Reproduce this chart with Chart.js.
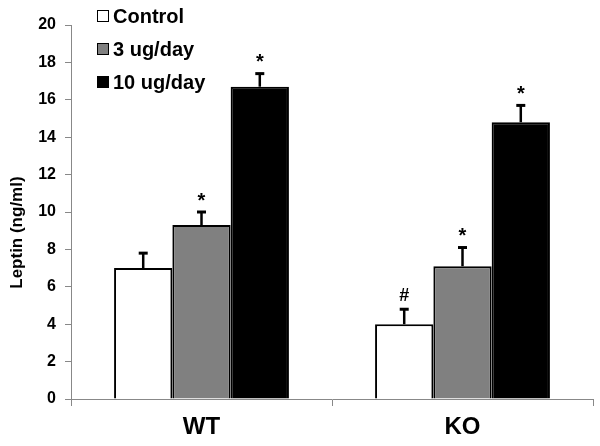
<!DOCTYPE html>
<html>
<head>
<meta charset="utf-8">
<script src="https://cdn.jsdelivr.net/npm/chart.js@4.4.1/dist/chart.umd.min.js"></script>
<style>
  html, body { margin: 0; padding: 0; background: #fff; }
  #wrap { width: 600px; height: 446px; }
</style>
</head>
<body>
<div id="wrap"><canvas id="leptin"></canvas></div>
<script>
// groups and series
const groups = ["WT", "KO"];
const seriesNames = ["Control", "3 ug/day", "10 ug/day"];
const leptin = [
  [7.0, 4.0],
  [9.3, 7.1],
  [16.7, 14.8],
];
const sem = [
  [0.8, 0.8],
  [0.7, 1.0],
  [0.7, 0.9],
];
const marks = [
  ["", "#"],
  ["*", "*"],
  ["*", "*"],
];
const yTicks = [0, 2, 4, 6, 8, 10, 12, 14, 16, 18, 20];
const yTitle = "Leptin (ng/ml)";

const fills = ["#ffffff", "#808080", "#000000"];
const fontFam = "'Liberation Sans', Arial, sans-serif";

// error bars, significance marks, legend and y title
const extras = {
  id: "extras",
  afterDatasetsDraw(chart) {
    const ctx = chart.ctx;
    const y = chart.scales.y;
    ctx.save();
    chart.data.datasets.forEach((ds, i) => {
      const meta = chart.getDatasetMeta(i);
      meta.data.forEach((bar, j) => {
        const top = y.getPixelForValue(leptin[i][j] + sem[i][j]);
        const x = bar.x;
        ctx.strokeStyle = "#000";
        ctx.lineWidth = 2.5;
        ctx.beginPath();
        ctx.moveTo(x, bar.y);
        ctx.lineTo(x, top);
        ctx.stroke();
        ctx.lineWidth = 3;
        ctx.beginPath();
        ctx.moveTo(x - 4.5, top);
        ctx.lineTo(x + 4.5, top);
        ctx.stroke();
        if (marks[i][j]) {
          ctx.fillStyle = "#000";
          ctx.textAlign = "center";
          ctx.textBaseline = "bottom";
          ctx.font = (marks[i][j] === "*" ? "bold 20px " : "bold 18px ") + fontFam;
          ctx.fillText(marks[i][j], x, top - (marks[i][j] === "*" ? 1 : 4));
        }
      });
    });

    // legend in the upper left corner
    const area = chart.chartArea;
    const lx = area.left + 26;
    ctx.font = "bold 20px " + fontFam;
    ctx.textAlign = "left";
    ctx.textBaseline = "middle";
    seriesNames.forEach((name, i) => {
      const cy = area.top - 9 + i * 33;
      ctx.fillStyle = fills[i];
      ctx.fillRect(lx, cy - 6, 12, 12);
      ctx.strokeStyle = "#000";
      ctx.lineWidth = 1;
      ctx.strokeRect(lx + 0.5, cy - 5.5, 11, 11);
      ctx.fillStyle = "#000";
      ctx.fillText(name, lx + 16, cy + 1);
    });

    // y axis title
    ctx.translate(17, area.top + (area.bottom - area.top) * 0.555);
    ctx.rotate(-Math.PI / 2);
    ctx.textAlign = "center";
    ctx.font = "bold 17px " + fontFam;
    ctx.fillText(yTitle, 0, 0);
    ctx.restore();
  },
};

new Chart(document.getElementById("leptin"), {
  type: "bar",
  plugins: [extras],
  data: {
    labels: groups,
    datasets: seriesNames.map((name, i) => ({
      label: name,
      data: leptin[i],
      backgroundColor: fills[i],
      borderColor: "#000",
      borderWidth: 2,
      borderSkipped: "bottom",
      categoryPercentage: 0.67,
      barPercentage: 1.0,
    })),
  },
  options: {
    responsive: true,
    maintainAspectRatio: false,
    animation: false,
    layout: { padding: { top: 25, right: 7, left: 0, bottom: 0 } },
    plugins: {
      tooltip: { enabled: false },
      legend: { display: false },
    },
    scales: {
      x: {
        afterFit: (s) => { s.height = 47; },
        border: { color: "#888", width: 1 },
        grid: { drawOnChartArea: false, color: "#888", tickLength: 7, offset: true },
        ticks: {
          color: "#000",
          padding: 7,
          font: { family: fontFam, size: 24, weight: "bold" },
        },
      },
      y: {
        min: 0,
        max: 20,
        afterFit: (s) => { s.width = 71; },
        afterBuildTicks: (s) => { s.ticks = yTicks.map((v) => ({ value: v })); },
        border: { color: "#888", width: 1 },
        grid: { drawOnChartArea: false, color: "#888", tickLength: 6 },
        ticks: {
          color: "#000",
          padding: 9,
          font: { family: fontFam, size: 16, weight: "bold" },
        },
      },
    },
  },
});
</script>
</body>
</html>
